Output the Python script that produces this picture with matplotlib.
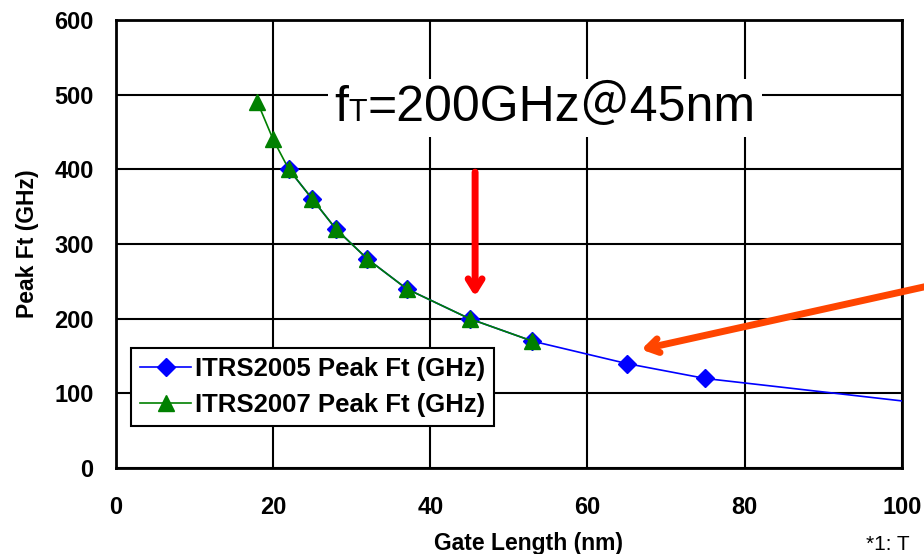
import matplotlib
matplotlib.use("Agg")
import matplotlib.pyplot as plt
from matplotlib.offsetbox import TextArea, HPacker, AnnotationBbox

# ITRS peak Ft vs gate length
gate_2005 = [22, 25, 28, 32, 37, 45, 53, 65, 75, 100]
ft_2005 = [400, 360, 320, 280, 240, 200, 170, 140, 120, 90]
gate_2007 = [18, 20, 22, 25, 28, 32, 37, 45, 53]
ft_2007 = [490, 440, 400, 360, 320, 280, 240, 200, 170]

x_ticks = [0, 20, 40, 60, 80, 100]
y_ticks = [0, 100, 200, 300, 400, 500, 600]

plt.rcParams["font.family"] = ["Liberation Sans", "Noto Sans CJK JP", "DejaVu Sans"]

fig = plt.figure(figsize=(9.24, 5.54), dpi=100)
ax = fig.add_axes([0.1255, 0.155, 0.8505, 0.809])

ax.plot(gate_2005, ft_2005, color="blue", lw=1.2, marker="D", ms=9,
        markevery=list(range(len(gate_2005) - 1)),
        label="ITRS2005 Peak Ft (GHz)", zorder=3)
ax.plot(gate_2007, ft_2007, color="green", lw=1.2, marker="^", ms=12,
        label="ITRS2007 Peak Ft (GHz)", zorder=4)

ax.set_xlim(0, 100)
ax.set_ylim(0, 600)
ax.set_xticks(x_ticks)
ax.set_yticks(y_ticks)
ax.tick_params(axis="x", length=0, labelsize=17, pad=20)
ax.tick_params(axis="y", length=0, labelsize=17, pad=16)
for lab in ax.get_xticklabels() + ax.get_yticklabels():
    lab.set_fontweight("bold")
ax.grid(True, color="black", lw=1.5)
for s in ax.spines.values():
    s.set_linewidth(2)

ax.set_xlabel("Gate Length (nm)", fontsize=16.5, fontweight="bold")
ax.set_ylabel("Peak Ft (GHz)", fontsize=16.5, fontweight="bold")
ax.xaxis.set_label_coords(0.525, -0.142)
ax.yaxis.set_label_coords(-0.098, 0.5)

leg = ax.legend(loc="upper left", bbox_to_anchor=(0.019, 0.268),
                prop={"weight": "bold", "size": 18.5}, fancybox=False,
                edgecolor="black", framealpha=1, borderpad=0.35,
                handlelength=2.0, handletextpad=0.15, labelspacing=0.45,
                borderaxespad=0)
leg.get_frame().set_linewidth(1.5)

# f_T = 200GHz @ 45nm label, white box over grid
parts = HPacker(children=[
    TextArea("f", textprops=dict(size=36)),
    TextArea("T", textprops=dict(size=22)),
    TextArea("=200GHz＠45nm", textprops=dict(size=36)),
], align="baseline", pad=0, sep=0)
ab = AnnotationBbox(parts, (54.6, 482), xycoords="data", frameon=True,
                    pad=0.45, zorder=5,
                    bboxprops=dict(facecolor="white", edgecolor="none"))
ax.add_artist(ab)

ax.annotate("", xy=(45.7, 226), xytext=(45.7, 400),
            arrowprops=dict(arrowstyle="->,head_length=0.8,head_width=0.5",
                            color="red", lw=5), zorder=6)
ax.annotate("", xy=(66.5, 158), xytext=(106, 250),
            arrowprops=dict(arrowstyle="->,head_length=0.8,head_width=0.5",
                            color="#ff4500", lw=5),
            annotation_clip=False, zorder=6)

fig.text(0.937, 0.0, "*1: T", fontsize=15, ha="left", va="bottom")

fig.savefig("out.png", dpi=100)
